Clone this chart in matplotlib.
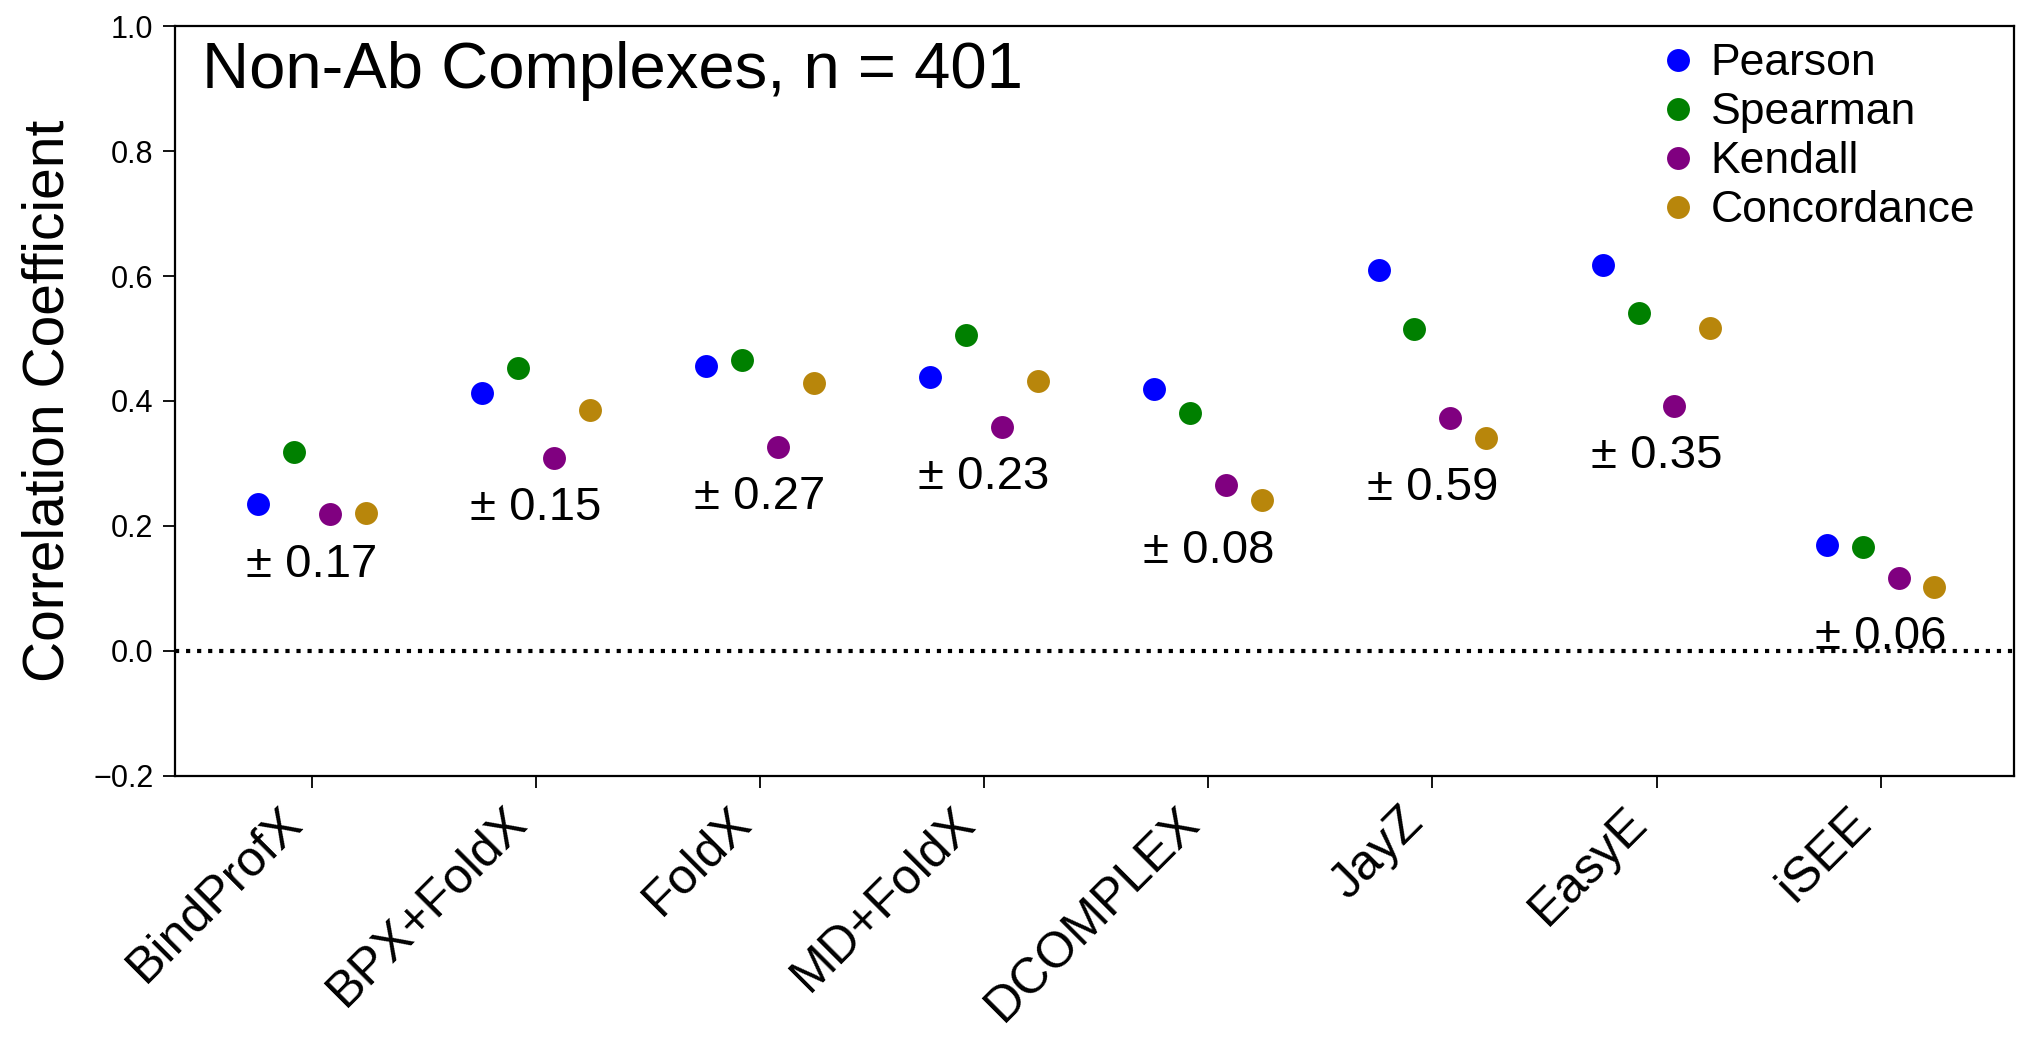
import numpy as np
import matplotlib
matplotlib.use('Agg')
import matplotlib.pyplot as plt

plt.rcParams['font.family'] = ['Liberation Sans', 'DejaVu Sans']

methods = ['BindProfX', 'BPX+FoldX', 'FoldX', 'MD+FoldX', 'DCOMPLEX', 'JayZ', 'EasyE', 'iSEE']
pearson = [0.235, 0.413, 0.456, 0.438, 0.419, 0.609, 0.617, 0.170]
spearman = [0.319, 0.452, 0.465, 0.505, 0.380, 0.515, 0.541, 0.166]
kendall = [0.219, 0.309, 0.327, 0.359, 0.265, 0.373, 0.392, 0.117]
concordance = [0.220, 0.385, 0.428, 0.432, 0.241, 0.341, 0.517, 0.103]
errors = ['0.17', '0.15', '0.27', '0.23', '0.08', '0.59', '0.35', '0.06']

series = [('Pearson', pearson, 'blue'),
          ('Spearman', spearman, 'green'),
          ('Kendall', kendall, 'purple'),
          ('Concordance', concordance, 'darkgoldenrod')]

fig = plt.figure(figsize=(20.17, 10.41), dpi=100)
ax = fig.add_axes([0.0868, 0.2546, 0.9117, 0.7204])

x = np.arange(len(methods))
offsets = [-0.24, -0.08, 0.08, 0.24]
for (name, vals, col), off in zip(series, offsets):
    ax.plot(x + off, vals, 'o', color=col, ms=16.5, mec='none', label=name)

# error text under each group
lows = np.min([pearson, spearman, kendall, concordance], axis=0)
for i, err in enumerate(errors):
    ax.text(x[i], lows[i] - 0.1, '\u00b1 ' + err, ha='center', va='baseline', fontsize=34)

ax.axhline(0, color='black', ls=':', lw=3)

ax.text(0.0145, 0.917, 'Non-Ab Complexes, n = 401', transform=ax.transAxes,
        fontsize=47, va='baseline', ha='left')

ax.set_xlim(-0.61, 7.595)
ax.set_ylim(-0.2, 1.0)
ax.set_yticks(np.arange(-0.2, 1.01, 0.2))
ax.set_xticks(x)
ax.set_xticklabels(methods, rotation=45, ha='right', fontsize=36)
ax.tick_params(axis='y', labelsize=22, length=8.5, width=1.3, pad=7)
ax.tick_params(axis='x', length=8.5, width=1.3, pad=8)
ax.set_ylabel('Correlation Coefficient', fontsize=41)
ax.yaxis.set_label_coords(-0.054, 0.5)
for s in ax.spines.values():
    s.set_linewidth(1.6)

ax.legend(loc='upper left', bbox_to_anchor=(0.8075, 0.977), frameon=False,
          fontsize=32, borderpad=0, borderaxespad=0, labelspacing=0.18,
          handlelength=0.8, handletextpad=0.34)

fig.savefig('out.png', dpi=100)
